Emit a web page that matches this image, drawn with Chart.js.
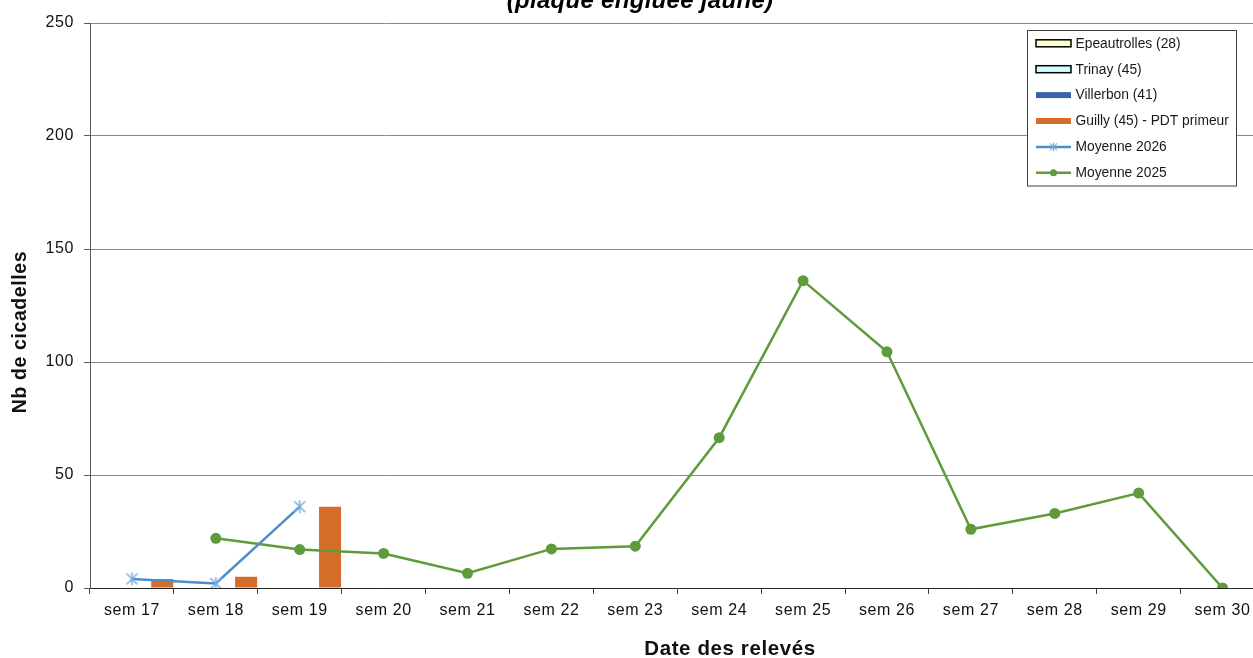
<!DOCTYPE html>
<html lang="fr">
<head>
<meta charset="utf-8">
<title>Cicadelles - plaque engluée jaune</title>
<script src="https://cdn.jsdelivr.net/npm/chart.js@4.4.1/dist/chart.umd.min.js"></script>
<style>
  html, body { margin: 0; padding: 0; background: #fff; overflow: hidden; }
  #wrap { position: absolute; left: 0; top: 0; width: 1275px; height: 658px; }
</style>
</head>
<body>
<div id="wrap"><canvas id="chart" width="1275" height="658"></canvas></div>
<script>
// Weekly leafhopper counts (sticky yellow traps)
const weeks = ['sem 17', 'sem 18', 'sem 19', 'sem 20', 'sem 21', 'sem 22', 'sem 23',
               'sem 24', 'sem 25', 'sem 26', 'sem 27', 'sem 28', 'sem 29', 'sem 30'];

const epeautrolles = [];
const trinay = [];
const villerbon = [];
const guilly = [4, 5, 36];

const moyenne2026 = [4, 2, 36];
const moyenne2025 = [null, 22, 17, 15.3, 6.5, 17.3, 18.5, 66.5, 136, 104.5, 26, 33, 42, 0];

const yTicks = [0, 50, 100, 150, 200, 250];

const FONT = '"Liberation Sans", Arial, sans-serif';
const TEXT_SPACING = '0.6px';

// Asterisk marker used for the 2026 average
function asteriskMarker(color) {
  const c = document.createElement('canvas');
  c.width = 15; c.height = 15;
  const g = c.getContext('2d');
  g.strokeStyle = color;
  g.lineWidth = 1.5;
  g.beginPath();
  g.moveTo(7.5, 1); g.lineTo(7.5, 14);
  g.moveTo(2, 2); g.lineTo(13, 13);
  g.moveTo(13, 2); g.lineTo(2, 13);
  g.stroke();
  return c;
}
const starMarker = asteriskMarker('#78ACDF');

// Slightly wider letter spacing for axis texts
const spacingPlugin = {
  id: 'spacing',
  beforeUpdate(chart) { chart.ctx.letterSpacing = TEXT_SPACING; },
  beforeDraw(chart) { chart.ctx.letterSpacing = TEXT_SPACING; }
};

// Chart title (second line) and the two axis titles
const titlePlugin = {
  id: 'titles',
  afterDraw(chart) {
    const ctx = chart.ctx;
    ctx.save();
    ctx.fillStyle = '#000';
    ctx.textAlign = 'center';
    ctx.textBaseline = 'alphabetic';

    ctx.letterSpacing = '0.3px';
    ctx.font = 'italic bold 24px ' + FONT;
    ctx.fillText('(plaque engluée jaune)', 640, 8);

    ctx.letterSpacing = TEXT_SPACING;
    ctx.fillStyle = '#111';
    ctx.font = 'bold 20.5px ' + FONT;
    ctx.fillText('Date des relevés', 730, 655);

    ctx.font = 'bold 19.5px ' + FONT;
    ctx.translate(25.5, 332);
    ctx.rotate(-Math.PI / 2);
    ctx.fillText('Nb de cicadelles', 0, 0);
    ctx.restore();
  }
};

// Boxed legend in the upper right corner
const legendPlugin = {
  id: 'boxLegend',
  afterDraw(chart) {
    const ctx = chart.ctx;
    const x0 = 1027.5, y0 = 30.5, w = 209, h = 155.5;
    ctx.save();
    ctx.letterSpacing = '0px';
    ctx.fillStyle = '#fff';
    ctx.fillRect(x0, y0, w, h);
    ctx.strokeStyle = '#404040';
    ctx.lineWidth = 1;
    ctx.strokeRect(x0, y0, w, h);
    ctx.font = '13.8px ' + FONT;
    ctx.textBaseline = 'middle';
    ctx.textAlign = 'left';
    const sx = 1036, sw = 35, rowH = 25.9;
    chart.data.datasets.forEach((ds, i) => {
      const cy = 43.3 + i * rowH;
      if (ds.type === 'line') {
        ctx.strokeStyle = ds.borderColor;
        ctx.lineWidth = 2.5;
        ctx.beginPath();
        ctx.moveTo(sx, cy); ctx.lineTo(sx + sw, cy);
        ctx.stroke();
        if (ds.pointStyle === 'circle') {
          ctx.fillStyle = ds.pointBackgroundColor;
          ctx.beginPath();
          ctx.arc(sx + sw / 2, cy, 3.5, 0, Math.PI * 2);
          ctx.fill();
        } else {
          ctx.drawImage(ds.pointStyle, sx + sw / 2 - 5, cy - 5, 10, 10);
        }
      } else {
        ctx.fillStyle = ds.backgroundColor;
        if (ds.legendBorder) {
          ctx.fillRect(sx, cy - 3.5, sw, 7);
          ctx.strokeStyle = '#000';
          ctx.lineWidth = 1.5;
          ctx.strokeRect(sx, cy - 3.5, sw, 7);
        } else {
          ctx.fillRect(sx, cy - 3, sw, 6);
        }
      }
      ctx.fillStyle = '#1a1a1a';
      ctx.fillText(ds.label, 1075.5, cy + 0.5);
    });
    ctx.restore();
  }
};

new Chart(document.getElementById('chart'), {
  type: 'bar',
  data: {
    labels: weeks,
    datasets: [
      { label: 'Epeautrolles (28)', data: epeautrolles, backgroundColor: '#FFFFCC', legendBorder: true, order: 3 },
      { label: 'Trinay (45)', data: trinay, backgroundColor: '#CCFFFF', legendBorder: true, order: 3 },
      { label: 'Villerbon (41)', data: villerbon, backgroundColor: '#3B62AD', order: 3 },
      { label: 'Guilly (45) - PDT primeur', data: guilly, backgroundColor: '#D46D2A', order: 3 },
      {
        type: 'line', label: 'Moyenne 2026', data: moyenne2026,
        borderColor: '#4E8DCC', borderWidth: 2.5,
        pointStyle: starMarker, pointRadius: 7, pointBackgroundColor: '#78ACDF',
        order: 0
      },
      {
        type: 'line', label: 'Moyenne 2025', data: moyenne2025,
        borderColor: '#5F9B3B', borderWidth: 2.5,
        pointStyle: 'circle', pointRadius: 5.5, pointBorderWidth: 0,
        pointBackgroundColor: '#5F9B3B', pointBorderColor: '#5F9B3B',
        order: 1
      }
    ]
  },
  options: {
    responsive: false,
    animation: false,
    devicePixelRatio: 1,
    barPercentage: 1.09,
    categoryPercentage: 0.963,
    layout: { padding: { top: 23, right: 10.5, left: 0, bottom: 0 } },
    plugins: {
      legend: { display: false },
      title: { display: false },
      tooltip: { enabled: false }
    },
    scales: {
      x: {
        offset: true,
        grid: { drawOnChartArea: false, offset: true, drawTicks: true, tickLength: 6, tickColor: '#404040' },
        border: { display: true, color: '#262626', width: 1 },
        ticks: { color: '#111', font: { family: FONT, size: 16 }, padding: 7, maxRotation: 0, autoSkip: false },
        afterFit(scale) { scale.height = 70; }
      },
      y: {
        min: 0, max: 250,
        afterBuildTicks(scale) { scale.ticks = yTicks.map(v => ({ value: v })); },
        grid: { color: '#888888', lineWidth: 1, drawTicks: true, tickLength: 6, tickColor: '#595959' },
        border: { display: true, color: '#595959', width: 1 },
        ticks: { color: '#111', font: { family: FONT, size: 16 }, padding: 10 },
        afterFit(scale) { scale.width = 90; }
      }
    }
  },
  plugins: [spacingPlugin, titlePlugin, legendPlugin]
});
</script>
</body>
</html>
